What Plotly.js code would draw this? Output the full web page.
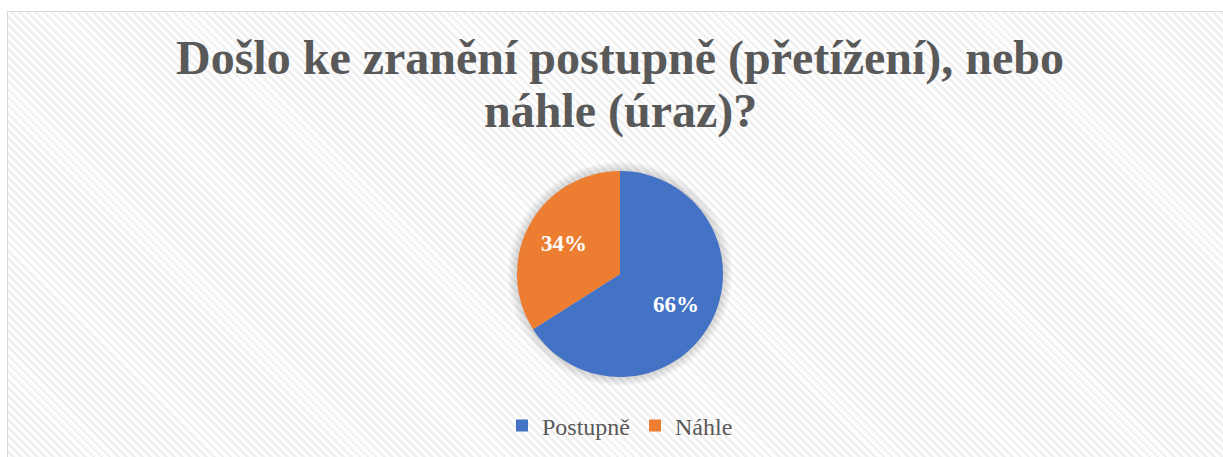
<!DOCTYPE html>
<html>
<head>
<meta charset="utf-8">
<script src="https://cdn.plot.ly/plotly-3.0.1.min.js"></script>
<style>
  html, body { margin:0; padding:0; background:#ffffff; overflow:hidden; }
  #frame {
    position:absolute; left:7px; top:11px; width:1240px; height:470px;
    border:1.5px solid #d9d9d9;
    background: repeating-linear-gradient(45deg, #ffffff 0px, #ffffff 3px, #f1f1f1 3px, #f1f1f1 5.7px);
  }
  #chart { position:absolute; left:0; top:0; width:1223px; height:457px; }
</style>
</head>
<body>
<div id="frame"></div>
<div id="chart"></div>
<script>
const titleLine1 = "Došlo ke zranění postupně (přetížení), nebo";
const titleLine2 = "náhle (úraz)?";
const categories = ["Postupně", "Náhle"];
const values = [66, 34];
const colors = ["#4472C4", "#ED7D31"];

const W = 1223, H = 457;
const cx = 620, cy = 274, R = 103;
const serif = "Liberation Serif, Times New Roman, serif";

const shapes = [];
[112, 110, 108, 106, 104].forEach(r => {
  shapes.push({
    type: "circle", layer: "below",
    xref: "paper", yref: "paper",
    xsizemode: "pixel", ysizemode: "pixel",
    xanchor: cx / W, yanchor: 1 - cy / H,
    x0: -r, x1: r, y0: -r, y1: r,
    fillcolor: "rgba(0,0,0,0.03)", line: { width: 0 }
  });
});

// percentage labels placed at each slice's mid-angle (derived from the data)
const total = values.reduce((a, b) => a + b, 0);
const annotations = [];
let cum = 0;
values.forEach((v, i) => {
  const frac = v / total;
  const mid = (cum + frac / 2) * 2 * Math.PI; // clockwise from 12 o'clock
  cum += frac;
  const rr = 0.62 * R;
  annotations.push({
    xref: "paper", yref: "paper",
    x: (cx + rr * Math.sin(mid)) / W,
    y: 1 - (cy - rr * Math.cos(mid)) / H,
    xanchor: "center", yanchor: "middle",
    showarrow: false,
    text: Math.round(frac * 100) + "%",
    font: { family: serif, size: 23, color: "#ffffff", weight: "bold" }
  });
});
annotations.push({
  xref: "paper", yref: "paper",
  x: cx / W, y: 1 - 111 / H, xanchor: "center", yanchor: "middle",
  showarrow: false, text: titleLine2,
  font: { family: serif, size: 48, color: "#595959", weight: "bold" }
});

const trace = {
  type: "pie",
  labels: categories,
  values: values,
  sort: false,
  direction: "clockwise",
  rotation: 0,
  marker: { colors: colors, line: { width: 0 } },
  textinfo: "none",
  hoverinfo: "label+percent",
  domain: { x: [(cx - R) / W, (cx + R) / W], y: [1 - (cy + R) / H, 1 - (cy - R) / H] }
};

const layout = {
  width: W, height: H,
  margin: { l: 0, r: 0, t: 0, b: 0 },
  paper_bgcolor: "rgba(0,0,0,0)",
  plot_bgcolor: "rgba(0,0,0,0)",
  title: {
    text: titleLine1,
    font: { family: serif, size: 48, color: "#595959", weight: "bold" },
    x: cx / W, xanchor: "center",
    xref: "container", yref: "container",
    y: 1 - 57 / H, yanchor: "middle"
  },
  showlegend: true,
  legend: {
    orientation: "h",
    x: cx / W, xanchor: "center",
    y: 1 - 426 / H, yanchor: "middle",
    font: { family: serif, size: 24, color: "#595959" },
    bgcolor: "rgba(0,0,0,0)",
    itemwidth: 30
  },
  shapes: shapes,
  annotations: annotations
};

Plotly.newPlot("chart", [trace], layout, { displayModeBar: false, staticPlot: true });
</script>
</body>
</html>
